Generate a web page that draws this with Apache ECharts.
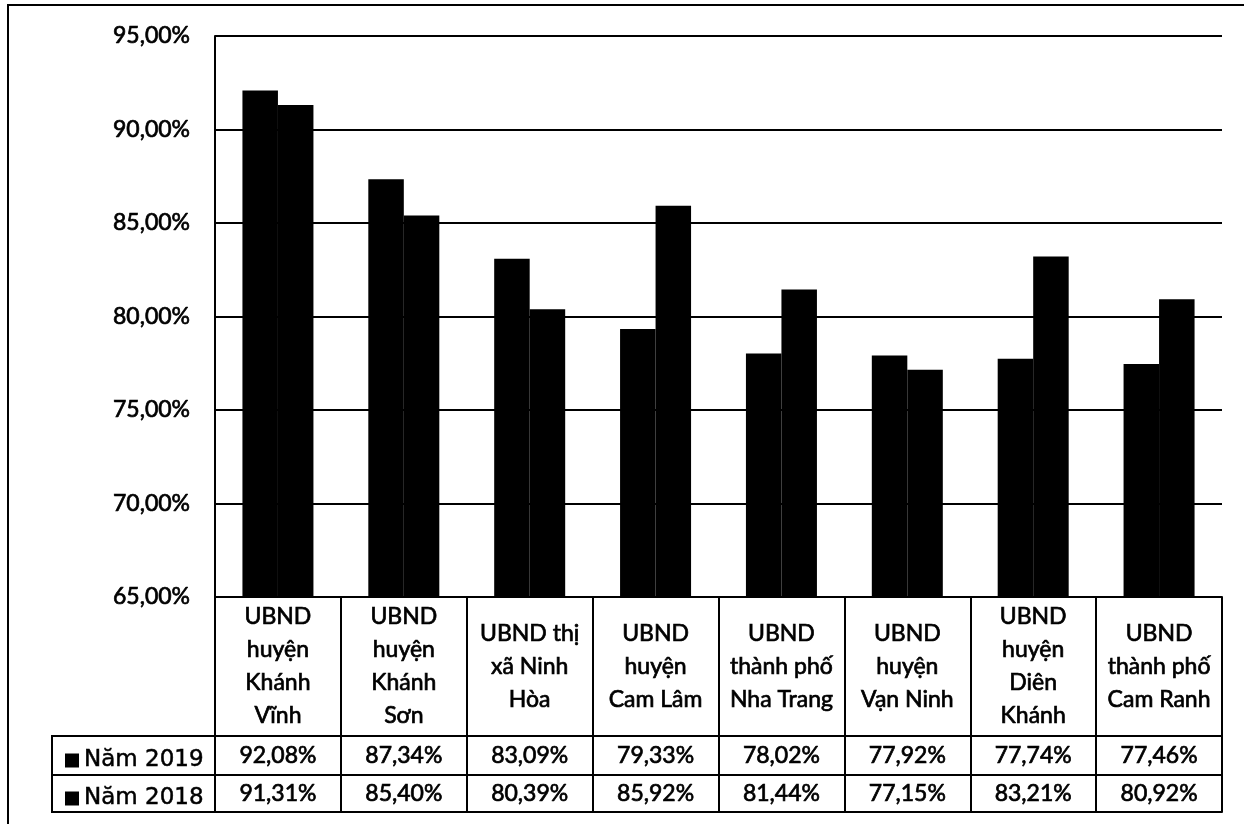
<!DOCTYPE html>
<html>
<head>
<meta charset="utf-8">
<script src="https://cdn.jsdelivr.net/npm/echarts@6/dist/echarts.min.js"></script>
<style>
html,body{margin:0;padding:0;background:#fff;}
#chart{width:1244px;height:824px;}
</style>
</head>
<body>
<div id="chart"></div>
<script>
// ---- data ----
const categories = [
  'UBND\nhuyện\nKhánh\nVĩnh',
  'UBND\nhuyện\nKhánh\nSơn',
  'UBND thị\nxã Ninh\nHòa',
  'UBND\nhuyện\nCam Lâm',
  'UBND\nthành phố\nNha Trang',
  'UBND\nhuyện\nVạn Ninh',
  'UBND\nhuyện\nDiên\nKhánh',
  'UBND\nthành phố\nCam Ranh'
];
const seriesNames = ['Năm 2019', 'Năm 2018'];
const values2019 = [92.08, 87.34, 83.09, 79.33, 78.02, 77.92, 77.74, 77.46];
const values2018 = [91.31, 85.40, 80.39, 85.92, 81.44, 77.15, 83.21, 80.92];
const yMin = 65, yMax = 95, yStep = 5;

// ---- layout ----
const gridLeft = 215, gridRight = 22, gridTop = 36, gridBottomY = 597;
const row1Bottom = 736, row2Bottom = 775, row3Bottom = 812;
const legendLeftX = 52;
const fontMain = 'Lato';
const fs = 23;
const thick = {textBorderColor: '#000', textBorderWidth: 0.7};

const fmt = v => v.toFixed(2).replace('.', ',') + '%';

const chart = echarts.init(document.getElementById('chart'), null, {renderer: 'canvas'});

const lineStyle = {color: '#000', width: 2};
const tableLabel = (vals, margin) => Object.assign({
  show: true, interval: 0, margin: margin, verticalAlign: 'middle',
  color: '#000', fontFamily: fontMain, fontSize: fs,
  formatter: (v, i) => fmt(vals[i])
}, thick);

const option = {
  animation: false,
  backgroundColor: '#fff',
  grid: {left: gridLeft, right: gridRight, top: gridTop, bottom: 824 - gridBottomY},
  legend: {
    orient: 'vertical',
    left: legendLeftX + 8,
    top: row1Bottom + 7,
    itemWidth: 14, itemHeight: 14, icon: 'rect',
    itemGap: 13,
    data: seriesNames,
    textStyle: Object.assign({color: '#000', fontFamily: 'DejaVu Sans', fontSize: 23, lineHeight: 25}, {textBorderColor: '#000', textBorderWidth: 0.5})
  },
  xAxis: [
    {
      type: 'category', data: categories, position: 'bottom',
      axisLine: {show: true, lineStyle: lineStyle},
      axisTick: {show: true, length: row3Bottom - gridBottomY, lineStyle: lineStyle},
      axisLabel: Object.assign({
        show: true, interval: 0, margin: (row1Bottom - gridBottomY) / 2, verticalAlign: 'middle',
        color: '#000', fontFamily: fontMain, fontSize: fs, lineHeight: 33, align: 'center'
      }, thick),
      splitLine: {show: false}
    },
    {
      type: 'category', data: categories, position: 'bottom', offset: row1Bottom - gridBottomY,
      axisLine: {show: true, lineStyle: lineStyle}, axisTick: {show: false},
      axisLabel: tableLabel(values2019, (row2Bottom - row1Bottom) / 2),
      splitLine: {show: false}
    },
    {
      type: 'category', data: categories, position: 'bottom', offset: row2Bottom - gridBottomY,
      axisLine: {show: true, lineStyle: lineStyle}, axisTick: {show: false},
      axisLabel: tableLabel(values2018, (row3Bottom - row2Bottom) / 2),
      splitLine: {show: false}
    },
    {
      type: 'category', data: categories, position: 'bottom', offset: row3Bottom - gridBottomY,
      axisLine: {show: true, lineStyle: lineStyle}, axisTick: {show: false},
      axisLabel: {show: false}, splitLine: {show: false}
    }
  ],
  yAxis: {
    type: 'value', min: yMin, max: yMax, interval: yStep,
    axisLine: {show: true, lineStyle: lineStyle},
    axisTick: {show: false},
    splitLine: {show: true, lineStyle: lineStyle},
    axisLabel: Object.assign({
      margin: 25, color: '#000', fontFamily: fontMain, fontSize: fs,
      formatter: v => fmt(v)
    }, thick)
  },
  series: [
    {name: seriesNames[0], type: 'bar', data: values2019, barWidth: 35.5, barGap: '0%',
     itemStyle: {color: '#000'}},
    {name: seriesNames[1], type: 'bar', data: values2018, barWidth: 35.5, barGap: '0%',
     itemStyle: {color: '#000'}}
  ],
  graphic: [
    {type: 'rect', shape: {x: 8, y: 5, width: 1400, height: 1000},
     style: {fill: 'none', stroke: '#000', lineWidth: 2}, silent: true},
    {type: 'rect', shape: {x: legendLeftX, y: row1Bottom, width: gridLeft - legendLeftX, height: row2Bottom - row1Bottom},
     style: {fill: 'none', stroke: '#000', lineWidth: 2}, silent: true, z: -1},
    {type: 'rect', shape: {x: legendLeftX, y: row2Bottom, width: gridLeft - legendLeftX, height: row3Bottom - row2Bottom},
     style: {fill: 'none', stroke: '#000', lineWidth: 2}, silent: true, z: -1}
  ]
};
chart.setOption(option);
</script>
</body>
</html>
